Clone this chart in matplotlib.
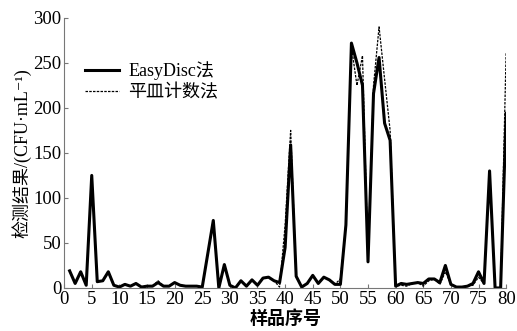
import numpy as np
import matplotlib.pyplot as plt

plt.rcParams['font.family'] = ['Liberation Serif', 'Noto Sans CJK SC', 'DejaVu Serif']

samples = list(range(1, 81))
easydisc = [19, 5, 18, 3, 125, 7, 8, 18, 3, 1,
            4, 2, 5, 1, 2, 2, 6, 2, 2, 6,
            3, 2, 2, 2, 1, 38, 75, 0, 26, 3,
            0, 8, 2, 9, 3, 11, 12, 8, 6, 45,
            159, 13, 1, 5, 14, 5, 12, 9, 4, 4,
            70, 272, 250, 225, 29, 216, 256, 183, 164, 2,
            5, 4, 5, 6, 5, 10, 10, 6, 25, 4,
            1, 1, 2, 5, 18, 5, 130, 0, 0, 194]
plate = [19, 5, 18, 3, 125, 7, 8, 18, 3, 1,
         4, 2, 5, 1, 2, 2, 8, 2, 2, 6,
         3, 2, 2, 2, 1, 38, 75, 0, 26, 3,
         0, 8, 2, 9, 3, 11, 12, 8, 1, 70,
         175, 13, 1, 5, 14, 5, 12, 9, 4, 10,
         70, 268, 225, 258, 30, 225, 290, 232, 175, 2,
         3, 2, 5, 6, 2, 8, 10, 4, 18, 4,
         1, 1, 2, 3, 12, 5, 130, 0, 0, 262]

fig = plt.figure(figsize=(5.17, 3.31), dpi=100)
ax = fig.add_axes([0.124, 0.13, 0.855, 0.816])

ax.plot(samples, easydisc, color='black', lw=2.2, label='EasyDisc法')
ax.plot(samples, plate, color='black', lw=0.9, ls=(0, (2, 1)), label='平皿计数法')

ax.set_xlim(0, 80)
ax.set_ylim(0, 300)
ax.set_xticks(np.arange(0, 81, 5))
ax.set_yticks(np.arange(0, 301, 50))
ax.tick_params(direction='in', length=3, labelsize=13.5, color='#777777', pad=2)
for s in ['top', 'right']:
    ax.spines[s].set_visible(False)
for s in ['left', 'bottom']:
    ax.spines[s].set_color('#777777')
    ax.spines[s].set_linewidth(0.8)

ax.set_xlabel('样品序号', fontsize=13, labelpad=2, fontweight='bold')
ax.set_ylabel('检测结果/(CFU·mL⁻¹)', fontsize=13, labelpad=1)

ax.legend(loc='upper left', bbox_to_anchor=(0.01, 0.9), frameon=False,
          fontsize=13, handlelength=1.9, handletextpad=0.5, labelspacing=0.25)

fig.savefig('out.png', dpi=100)
